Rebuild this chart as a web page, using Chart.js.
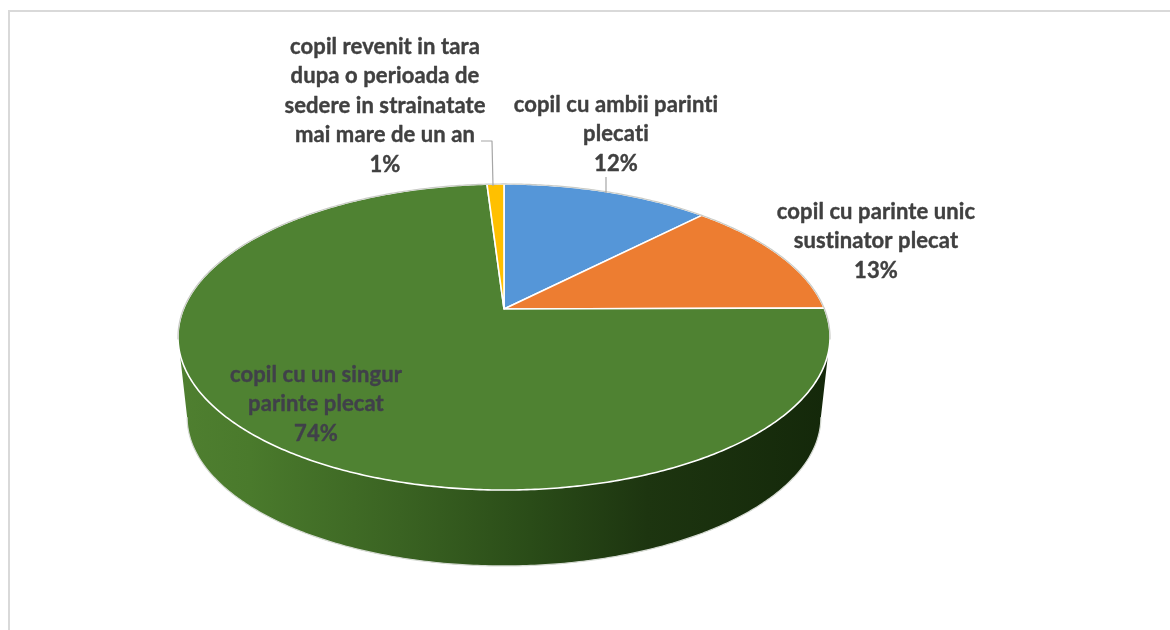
<!DOCTYPE html>
<html>
<head>
<meta charset="utf-8">
<style>
    html, body { margin: 0; padding: 0; background: #fff; }
    #wrap { position: relative; width: 1170px; height: 630px; overflow: hidden; }
    #frame { position: absolute; left: 8px; top: 10px; width: 1170px; height: 640px; border: 2px solid #d9d9d9; box-sizing: border-box; }
    canvas { position: absolute; left: 0; top: 0; }
</style>
</head>
<body>
<div id="wrap">
    <div id="frame"></div>
    <canvas id="pie" width="1170" height="630"></canvas>
</div>
<script src="https://cdn.jsdelivr.net/npm/chart.js@4"></script>
<script>
const categories = [
    ["copil cu ambii parinti", "plecati"],
    ["copil cu parinte unic", "sustinator plecat"],
    ["copil cu un singur", "parinte plecat"],
    ["copil revenit in tara", "dupa o perioada de", "sedere in strainatate", "mai mare de un an"],
];
const values = [12.3, 12.6, 74.1, 1.0];
const colors = ["#5596d8", "#ed7d31", "#4f8232", "#ffc000"];

// label anchors: centre x, y of first line
const labelAnchors = [[616, 105], [876, 212], [316, 375], [385, 47]];
const labelColors = ["#404040", "#404040", "#40404a", "#404040"];
const leaders = [[[606, 177], [606, 193]], null, null, [[481, 141], [492, 141], [493, 186]]];

// perspective of the tilted disc
const persp = 0.183;
const squash = 0.4615;
const bottomScale = 0.972;
const bottomDrop = 81;

function project(arc, angle, lower) {
    const u = Math.cos(angle);
    const v = -Math.sin(angle);
    const w = 1 + persp * v;
    const r = arc.outerRadius * (lower ? bottomScale : 1);
    return {
        x: arc.x + r * u / w,
        y: arc.y + (lower ? bottomDrop : 0) - r * squash * v / w,
    };
}

function tracePoints(ctx, pts, first) {
    pts.forEach((p, i) => {
        if (i === 0 && first) ctx.moveTo(p.x, p.y);
        else ctx.lineTo(p.x, p.y);
    });
}

function sample(arc, from, to, lower) {
    const n = Math.max(2, Math.ceil(Math.abs(to - from) / 0.01));
    const pts = [];
    for (let i = 0; i <= n; i++) {
        pts.push(project(arc, from + (to - from) * i / n, lower));
    }
    return pts;
}

const tiltedPie = {
    id: "tiltedPie",
    beforeDatasetsDraw(chart) {
        const ctx = chart.ctx;
        const arcs = chart.getDatasetMeta(0).data;
        const frontA = Math.asin(persp);
        const frontB = Math.PI - frontA;

        // side wall
        const grad = ctx.createLinearGradient(178, 0, 830, 0);
        grad.addColorStop(0, "#4f7f30");
        grad.addColorStop(0.11, "#4a7a2c");
        grad.addColorStop(0.34, "#3a6322");
        grad.addColorStop(0.54, "#2a4c18");
        grad.addColorStop(0.72, "#1d3510");
        grad.addColorStop(1, "#14280a");

        arcs.forEach((arc) => {
            const from = Math.max(arc.startAngle, frontA);
            const to = Math.min(arc.endAngle, frontB);
            if (to <= from) return;
            ctx.beginPath();
            tracePoints(ctx, sample(arc, from, to, false), true);
            tracePoints(ctx, sample(arc, to, from, true), false);
            ctx.closePath();
            ctx.fillStyle = grad;
            ctx.fill();
            ctx.beginPath();
            tracePoints(ctx, sample(arc, to, from, true), true);
            ctx.strokeStyle = "#d5dad2";
            ctx.lineWidth = 1.2;
            ctx.stroke();
        });

        // top face
        arcs.forEach((arc, i) => {
            ctx.beginPath();
            ctx.moveTo(arc.x, arc.y);
            tracePoints(ctx, sample(arc, arc.startAngle, arc.endAngle, false), false);
            ctx.closePath();
            ctx.fillStyle = colors[i];
            ctx.fill();
            ctx.strokeStyle = "#ffffff";
            ctx.lineWidth = 1.6;
            ctx.lineJoin = "round";
            ctx.stroke();
        });

        // back edge stays grey
        ctx.beginPath();
        tracePoints(ctx, sample(arcs[0], Math.PI - 0.2, Math.PI * 2 + 0.2, false), true);
        ctx.strokeStyle = "#c9cbc6";
        ctx.lineWidth = 1.2;
        ctx.stroke();

        // labels
        leaders.forEach((line) => {
            if (!line) return;
            ctx.beginPath();
            line.forEach((p, i) => (i ? ctx.lineTo(p[0], p[1]) : ctx.moveTo(p[0], p[1])));
            ctx.strokeStyle = "#a6a6a6";
            ctx.lineWidth = 1.2;
            ctx.stroke();
        });
        ctx.font = "bold 22px Lato";
        ctx.letterSpacing = "0.1px";
        ctx.textAlign = "center";
        ctx.textBaseline = "middle";
        const total = values.reduce((a, b) => a + b, 0);
        categories.forEach((lines, i) => {
            const texts = lines.concat(Math.round(values[i] / total * 100) + "%");
            ctx.fillStyle = labelColors[i];
            ctx.strokeStyle = labelColors[i];
            ctx.lineWidth = 0.4;
            texts.forEach((t, k) => {
                ctx.fillText(t, labelAnchors[i][0], labelAnchors[i][1] + k * 29.4);
                ctx.strokeText(t, labelAnchors[i][0], labelAnchors[i][1] + k * 29.4);
            });
        });
        return false;
    },
};

new Chart(document.getElementById("pie"), {
    type: "pie",
    data: {
        labels: categories,
        datasets: [{ data: values, backgroundColor: colors, borderWidth: 0 }],
    },
    options: {
        responsive: false,
        animation: false,
        devicePixelRatio: 1,
        radius: 320.5,
        layout: { padding: { right: 162, bottom: 12 } },
        plugins: { legend: { display: false }, tooltip: { enabled: false } },
    },
    plugins: [tiltedPie],
});
</script>
</body>
</html>
